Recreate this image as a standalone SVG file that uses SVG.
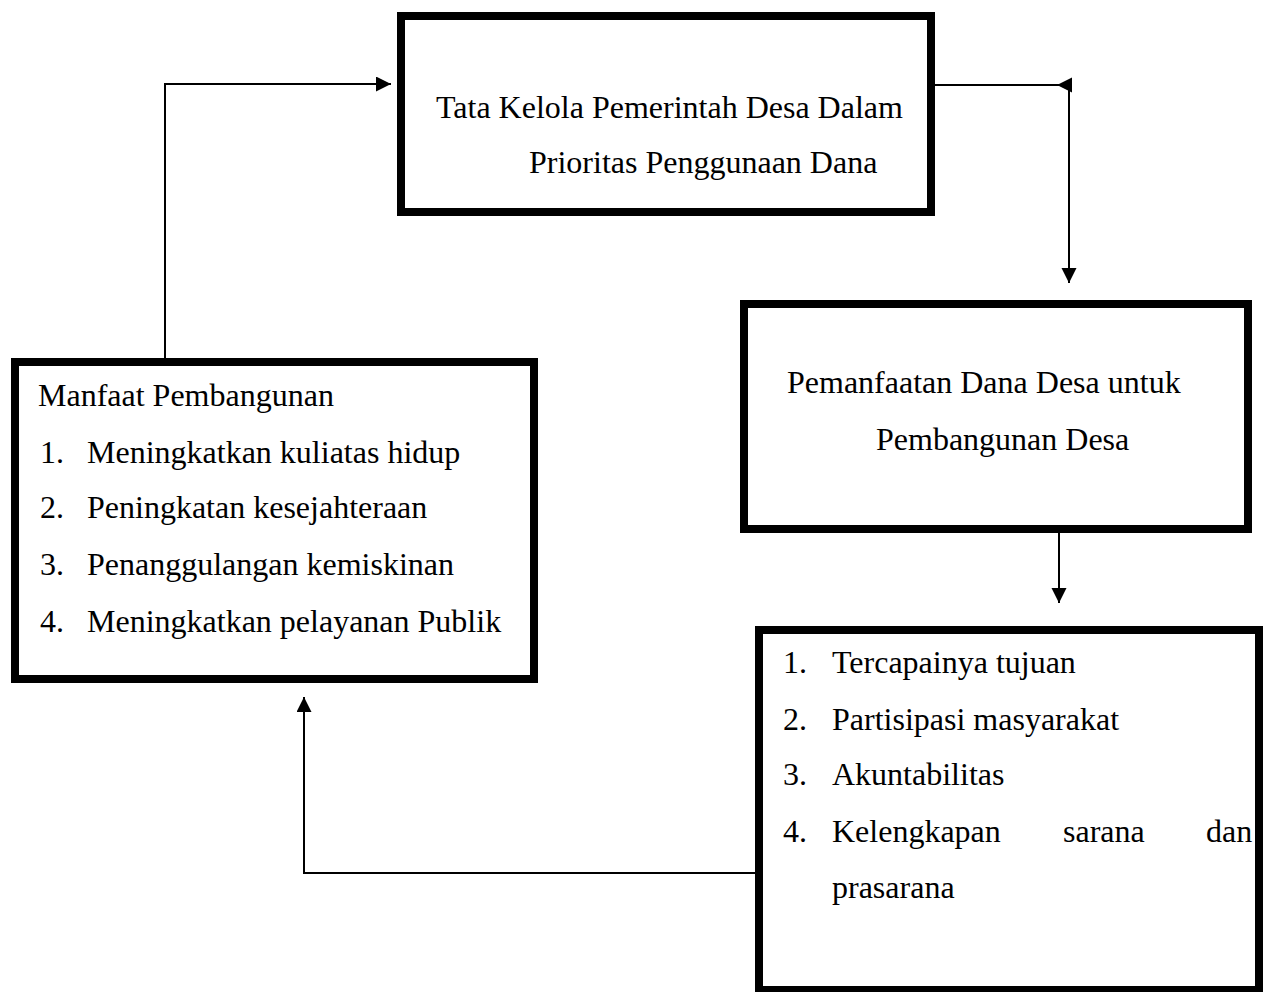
<svg xmlns="http://www.w3.org/2000/svg" width="1278" height="992" viewBox="0 0 1278 992">
<style>
.box{fill:#fff;stroke:#000;stroke-width:8}
.t{font-family:"Liberation Serif","Times New Roman",serif;font-size:32px;fill:#000}
.c{fill:none;stroke:#000;stroke-width:2}
</style>
<defs>
<marker id="ah" markerUnits="userSpaceOnUse" markerWidth="16" markerHeight="16" refX="15" refY="7.5" orient="auto">
<path d="M0,0 L15,7.5 L0,15 z" fill="#000"/>
</marker>
</defs>
<rect width="1278" height="992" fill="#fff"/>
<g id="connectors">
<path class="c" d="M165,358 V84 H391" marker-end="url(#ah)"/>
<path class="c" d="M935,85 H1069 V283" marker-end="url(#ah)"/>
<path class="c" d="M1071,85 H1057" marker-end="url(#ah)"/>
<path class="c" d="M1059,533 V603" marker-end="url(#ah)"/>
<path class="c" d="M755,873 H304 V697" marker-end="url(#ah)"/>
</g>
<g id="node-tata-kelola">
<rect class="box" x="401" y="16" width="530" height="196"/>
<text class="t" x="436" y="118">Tata Kelola Pemerintah Desa Dalam</text>
<text class="t" x="529" y="173">Prioritas Penggunaan Dana</text>
</g>
<g id="node-pemanfaatan">
<rect class="box" x="744" y="304" width="504" height="225"/>
<text class="t" x="787" y="393">Pemanfaatan Dana Desa untuk</text>
<text class="t" x="876" y="450">Pembangunan Desa</text>
</g>
<g id="node-indikator">
<rect class="box" x="759" y="630" width="500" height="360"/>
<text class="t" x="783" y="673">1.<tspan x="832">Tercapainya tujuan</tspan></text>
<text class="t" x="783" y="730">2.<tspan x="832">Partisipasi masyarakat</tspan></text>
<text class="t" x="783" y="785">3.<tspan x="832">Akuntabilitas</tspan></text>
<text class="t" x="783" y="842">4.<tspan x="832">Kelengkapan</tspan><tspan x="1063">sarana</tspan><tspan x="1206">dan</tspan></text>
<text class="t" x="832" y="898">prasarana</text>
</g>
<g id="node-manfaat">
<rect class="box" x="15" y="362" width="519" height="317"/>
<text class="t" x="38" y="406">Manfaat Pembangunan</text>
<text class="t" x="40" y="463">1.<tspan x="87">Meningkatkan kuliatas hidup</tspan></text>
<text class="t" x="40" y="518">2.<tspan x="87">Peningkatan kesejahteraan</tspan></text>
<text class="t" x="40" y="575">3.<tspan x="87">Penanggulangan kemiskinan</tspan></text>
<text class="t" x="40" y="632">4.<tspan x="87">Meningkatkan pelayanan Publik</tspan></text>
</g>
</svg>
